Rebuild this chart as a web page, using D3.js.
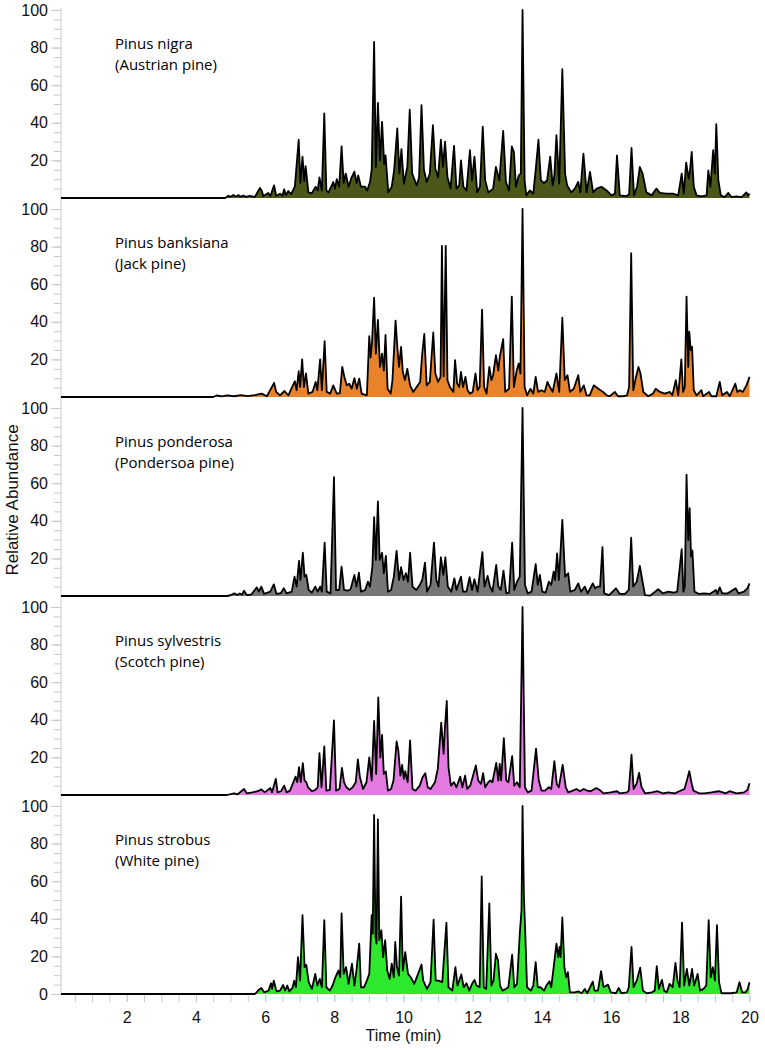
<!DOCTYPE html>
<html><head><meta charset="utf-8">
<script src="https://cdn.jsdelivr.net/npm/d3@7"></script>
<style>body{margin:0;background:#fff}svg{display:block}</style>
</head><body>
<svg id="chart" width="765" height="1050"></svg>
<script>
// [time (min), relative abundance]
const nigraTrace = [[0.1,0],[4.85,0],[4.94,1.2],[5.0,0.6],[5.08,1.6],[5.15,0.8],[5.23,1.5],[5.3,0.7],[5.37,1.3],[5.45,0.6],[5.56,1.2],[5.7,0.5],[5.85,5.3],[5.90,4],[5.95,1],[6.09,2.7],[6.15,1],[6.26,6.7],[6.32,1.2],[6.43,2.3],[6.5,1.2],[6.55,4.6],[6.6,1.5],[6.67,3.7],[6.75,2],[6.86,6.2],[6.97,31],[7.02,8],[7.08,22],[7.13,9],[7.17,17],[7.25,3],[7.35,2.5],[7.46,6],[7.52,4],[7.57,11],[7.64,4],[7.71,45],[7.77,4],[7.83,3],[7.97,8.5],[8.02,5],[8.07,10],[8.14,6],[8.21,27.5],[8.27,8],[8.33,13],[8.41,6],[8.50,11],[8.58,14],[8.64,8],[8.69,12],[8.77,6],[8.89,6],[8.95,4],[9.03,8.5],[9.08,15],[9.15,83],[9.20,16.5],[9.26,50.6],[9.32,20],[9.38,40.5],[9.44,18],[9.48,22.7],[9.56,3],[9.66,6],[9.73,15],[9.82,37],[9.88,13],[9.94,26],[10.01,7.6],[10.11,16.5],[10.18,47],[10.25,13],[10.38,6.7],[10.45,11],[10.52,49.4],[10.59,15],[10.67,8.5],[10.76,13],[10.85,38.7],[10.92,15.6],[11.00,11],[11.08,31],[11.14,16.5],[11.20,30],[11.27,11],[11.36,5],[11.46,27.7],[11.53,5],[11.61,6.7],[11.66,20],[11.73,6],[11.82,4],[11.92,25.4],[11.98,9.4],[12.05,22],[12.13,3],[12.21,6],[12.29,38],[12.36,9.4],[12.45,3],[12.59,5],[12.67,16.5],[12.77,9.4],[12.88,35.7],[12.96,8.5],[13.05,4],[13.13,27.5],[13.19,24.5],[13.25,6],[13.33,12],[13.39,13],[13.44,100],[13.50,9.4],[13.55,1.4],[13.65,4],[13.75,2.3],[13.82,15],[13.90,31],[13.97,9.4],[14.06,8],[14.15,9.4],[14.24,22],[14.31,6.7],[14.36,12],[14.42,33.4],[14.50,7.6],[14.59,68.6],[14.67,13],[14.73,6.7],[14.85,3],[14.95,5],[15.05,8.5],[15.11,3],[15.20,23.6],[15.29,3],[15.39,13.9],[15.48,3],[15.58,5],[15.72,6],[15.87,4],[16.01,1.4],[16.11,2.3],[16.17,22.7],[16.25,1.4],[16.44,1],[16.52,2],[16.59,26.6],[16.66,1.4],[16.75,6],[16.83,16.5],[16.91,13],[17.02,3],[17.17,1.4],[17.31,5],[17.41,2.7],[17.60,2.3],[17.79,2.3],[17.94,1.4],[18.04,13],[18.10,2.3],[18.17,18.8],[18.24,10.3],[18.28,14.7],[18.33,24.5],[18.39,6],[18.47,1.4],[18.61,0.9],[18.76,1.4],[18.81,14.7],[18.87,6],[18.95,25.4],[19.00,13],[19.04,39.3],[19.10,9.4],[19.17,1.4],[19.28,0.5],[19.39,2.7],[19.48,0.5],[19.62,0.9],[19.77,0.5],[19.91,3],[19.96,1.4],[20,2.3]];

const banksianaTrace = [[0.1,0],[4.5,0],[4.6,0.8],[4.75,0.3],[4.9,0.9],[5.1,0.4],[5.3,1],[5.5,0.5],[5.7,1],[5.90,1.8],[6.05,0.4],[6.26,7.5],[6.32,2.7],[6.43,0.9],[6.56,3.2],[6.67,0.9],[6.86,8.4],[6.91,3.6],[6.97,13.7],[7.01,5.3],[7.07,20],[7.12,5.3],[7.18,12.5],[7.25,1.8],[7.37,2.7],[7.46,8],[7.51,3.6],[7.59,20],[7.64,3.6],[7.72,29.7],[7.78,2.7],[7.88,1.8],[7.97,6.2],[8.07,1.8],[8.16,2.1],[8.23,16],[8.29,10.7],[8.36,6.2],[8.43,7.1],[8.50,4.4],[8.58,10],[8.65,4.4],[8.72,9.8],[8.79,1.8],[8.94,0.9],[9.01,32.4],[9.05,21],[9.09,29],[9.15,52.8],[9.20,23],[9.26,41],[9.32,16],[9.38,23],[9.43,14],[9.48,33],[9.54,4.4],[9.63,1.8],[9.68,9],[9.77,40.6],[9.82,26.7],[9.87,16],[9.93,26.7],[9.98,13.3],[10.04,9],[10.11,15],[10.19,6.2],[10.28,2.7],[10.38,5.3],[10.48,8],[10.54,23],[10.60,33.5],[10.67,6.2],[10.76,8],[10.86,34.3],[10.92,12.5],[11.00,8],[11.07,10.7],[11.11,80.4],[11.16,11],[11.22,80.4],[11.27,9],[11.34,5.3],[11.44,2.7],[11.49,19.6],[11.55,7.1],[11.61,5.3],[11.66,13.3],[11.72,5.3],[11.79,10.7],[11.85,3.6],[11.92,1.8],[12.00,2.7],[12.08,12.5],[12.14,3.6],[12.20,5.3],[12.27,46.5],[12.33,5.3],[12.40,1.8],[12.48,16],[12.54,9],[12.59,11.6],[12.67,22.2],[12.74,14],[12.78,21],[12.88,30.8],[12.94,2.7],[13.05,4.4],[13.13,53.4],[13.19,5.3],[13.27,14],[13.33,17.8],[13.38,12.5],[13.44,100],[13.50,5.3],[13.57,0.9],[13.67,4.4],[13.75,1.8],[13.82,10.7],[13.89,2.7],[13.99,3.6],[14.08,2.7],[14.16,8],[14.23,5.3],[14.31,2.7],[14.42,12.5],[14.50,2.7],[14.59,42.2],[14.66,9],[14.74,11.6],[14.81,2.7],[14.92,4.4],[15.05,11.6],[15.11,2.7],[15.21,6.2],[15.29,0.9],[15.38,0.9],[15.50,6.2],[15.63,4.4],[15.77,2.7],[15.87,0.9],[15.96,0.4],[16.11,2.7],[16.20,0.4],[16.35,0.4],[16.46,0.9],[16.52,5.3],[16.58,76.5],[16.64,3.6],[16.71,9.8],[16.79,16],[16.85,12.5],[16.93,2.7],[17.07,0.4],[17.21,1.8],[17.29,4.4],[17.41,2.7],[17.55,1.8],[17.70,2.7],[17.77,0.9],[17.87,9],[17.94,0.9],[18.03,20],[18.08,2.7],[18.13,5.3],[18.18,53.4],[18.23,16],[18.26,34.7],[18.30,25],[18.34,26.7],[18.39,3.6],[18.47,0.9],[18.61,3.6],[18.66,0.4],[18.83,2.7],[18.90,0.4],[19.04,0.4],[19.14,8],[19.21,0.9],[19.35,2.7],[19.43,0.4],[19.59,7.1],[19.65,2.7],[19.72,3.6],[19.81,2.7],[19.91,6.2],[19.95,8],[20,10.7]];

const ponderosaTrace = [[0.1,0],[4.9,0],[5.0,0.4],[5.11,1.4],[5.2,0.5],[5.27,1.4],[5.33,0.6],[5.39,2.8],[5.47,0.5],[5.6,0.8],[5.76,4.6],[5.82,2.3],[5.89,5],[5.97,1.1],[6.15,2.3],[6.25,6.2],[6.33,1.1],[6.45,1.5],[6.54,4.1],[6.62,1.4],[6.77,2.3],[6.85,10.3],[6.91,5],[6.98,18.7],[7.02,8.5],[7.09,23],[7.14,10.3],[7.19,11.2],[7.26,3.2],[7.35,1.8],[7.45,5],[7.52,2.3],[7.59,5],[7.64,2.3],[7.72,28.4],[7.78,2.3],[7.89,1.4],[7.99,63.2],[8.05,3.2],[8.14,3.2],[8.21,15.6],[8.28,3.2],[8.39,2.8],[8.47,3.6],[8.58,11.2],[8.64,5],[8.71,12.4],[8.77,2.3],[8.89,3.2],[8.97,7.6],[9.03,5],[9.10,15.6],[9.15,42],[9.20,19.2],[9.26,50.3],[9.31,19.2],[9.38,23],[9.43,12.1],[9.49,21.3],[9.55,2.3],[9.64,3.2],[9.72,10.3],[9.80,24],[9.87,8.5],[9.93,15.3],[10.00,8.5],[10.07,12.1],[10.13,7.6],[10.19,23],[10.26,5],[10.37,3.2],[10.47,5.9],[10.54,8.5],[10.62,17.8],[10.68,2.3],[10.78,5.9],[10.88,28.4],[10.95,8.5],[11.01,5],[11.08,20.6],[11.15,11.2],[11.21,20.6],[11.28,5],[11.38,2.3],[11.47,9.4],[11.53,3.2],[11.66,10.3],[11.72,2.3],[11.82,2.3],[11.91,10],[11.98,3.2],[12.05,8.9],[12.14,2.3],[12.28,23.3],[12.34,5],[12.43,10.7],[12.50,5],[12.57,2.3],[12.68,16.5],[12.74,5],[12.81,3.2],[12.89,13.5],[12.97,1.4],[13.05,1.8],[13.14,28.4],[13.20,3.2],[13.28,7.6],[13.36,10.3],[13.44,100],[13.51,5.9],[13.59,1.4],[13.70,2.3],[13.82,17],[13.88,5.9],[13.94,11.2],[14.01,2.3],[14.11,1.8],[14.20,7.6],[14.27,5.9],[14.34,13],[14.38,8.5],[14.44,22.6],[14.49,8.5],[14.59,40.5],[14.67,10.3],[14.76,12.1],[14.82,2.3],[14.95,3.2],[15.05,6.7],[15.13,2.3],[15.24,5],[15.32,1.4],[15.47,6.7],[15.54,4.1],[15.61,5],[15.68,5],[15.75,26],[15.80,1.4],[15.94,0.5],[16.14,4.1],[16.25,1.1],[16.40,1.1],[16.51,3.2],[16.58,31],[16.64,5],[16.74,7.6],[16.83,16],[16.90,8.5],[16.98,0.5],[17.13,0.2],[17.36,3.6],[17.50,1.4],[17.65,2.3],[17.81,1.8],[17.91,2.3],[18.04,24.9],[18.09,2.3],[18.13,5],[18.18,64.5],[18.23,29.8],[18.27,46.7],[18.31,21],[18.35,24.2],[18.41,2.3],[18.54,1.1],[18.69,1.4],[18.85,1.1],[19.03,3.2],[19.07,1.1],[19.14,4.6],[19.21,1.4],[19.37,1.4],[19.60,4.1],[19.68,1.4],[19.84,2.3],[19.94,4.1],[20,6.7]];

const sylvestrisTrace = [[0.1,0],[4.9,0],[5.1,0.9],[5.2,0.3],[5.39,3.2],[5.47,0.9],[5.63,1.4],[5.79,2],[5.89,3],[5.99,1.4],[6.15,3.7],[6.20,1.4],[6.31,8.6],[6.36,1.4],[6.46,2],[6.55,5],[6.62,1.4],[6.72,2.3],[6.88,9.8],[6.93,6.8],[6.98,14.8],[7.03,6.8],[7.09,17],[7.14,7.7],[7.19,6.8],[7.24,4.1],[7.35,2],[7.45,2.7],[7.52,4.1],[7.57,22.3],[7.63,4.1],[7.71,25.8],[7.77,2.3],[7.87,2.7],[7.99,39.7],[8.05,2.3],[8.15,3.2],[8.22,14.4],[8.28,6.8],[8.35,4.1],[8.44,2.7],[8.53,4.1],[8.62,6.8],[8.68,19],[8.74,9.4],[8.83,3.2],[8.93,6.8],[9.01,20],[9.08,7.7],[9.15,39.4],[9.21,11.2],[9.27,51.9],[9.33,20],[9.38,32],[9.43,11.2],[9.49,12.5],[9.55,2.3],[9.64,3.2],[9.71,7.7],[9.80,28.5],[9.85,23.7],[9.91,10.3],[9.96,16],[10.01,8.6],[10.05,12.7],[10.12,6.8],[10.19,29],[10.26,3.2],[10.35,2.3],[10.47,5],[10.55,9.4],[10.63,11.6],[10.70,4.1],[10.78,3.2],[10.91,6.8],[10.99,13.9],[11.09,38.5],[11.16,21.9],[11.20,37],[11.25,50],[11.30,14.8],[11.37,5],[11.46,6.8],[11.53,4.1],[11.64,9.8],[11.70,4.1],[11.78,10.3],[11.84,3.2],[11.93,5],[12.09,15.7],[12.16,7.7],[12.24,5.9],[12.30,11.6],[12.36,4.1],[12.45,6.8],[12.51,7.7],[12.57,6.8],[12.68,17.1],[12.74,7.7],[12.78,16.6],[12.82,7.7],[12.90,30.3],[12.97,7.7],[13.03,6.8],[13.14,20.7],[13.20,5],[13.28,6.8],[13.36,4.1],[13.44,100],[13.51,4.1],[13.59,1.4],[13.70,2.3],[13.83,24.6],[13.91,7.7],[13.99,2.3],[14.09,2.3],[14.20,4.1],[14.27,3.2],[14.36,18],[14.43,5.9],[14.49,4.1],[14.60,16],[14.69,4.1],[14.76,1.4],[14.89,2.3],[15.00,3.2],[15.10,2],[15.21,3.2],[15.31,2.3],[15.41,2],[15.57,3.7],[15.67,2.7],[15.78,0.9],[15.99,1.4],[16.17,2],[16.25,0.9],[16.46,1.4],[16.51,2.3],[16.59,21.4],[16.65,3.2],[16.74,6.2],[16.81,11.8],[16.88,4.1],[16.98,0.9],[17.18,1.4],[17.34,2],[17.50,0.9],[17.65,1.4],[17.84,0.9],[17.97,2],[18.12,3.2],[18.19,7.7],[18.26,12.7],[18.32,6.8],[18.38,2.3],[18.54,0.9],[18.69,0.9],[18.90,1.4],[19.11,2],[19.32,0.9],[19.42,2],[19.63,0.9],[19.84,1.4],[19.94,2.7],[20,6.2]];

const strobusTrace = [[0.1,0],[5.70,0],[5.73,0.4],[5.81,2.1],[5.89,3.2],[5.97,0.9],[6.10,1.8],[6.17,5.7],[6.20,2.7],[6.25,7.1],[6.33,1.4],[6.43,1.8],[6.52,4.8],[6.58,1.8],[6.64,4.5],[6.70,1.4],[6.79,3.2],[6.84,7.1],[6.89,3.6],[6.95,19.6],[7.01,7.1],[7.08,42],[7.14,14.3],[7.19,15.5],[7.26,6.3],[7.35,2.7],[7.45,10.7],[7.51,4.5],[7.58,8],[7.64,3.6],[7.71,39.3],[7.77,3.6],[7.87,1.8],[7.95,4.5],[8.03,8.9],[8.12,12.5],[8.17,8.9],[8.21,42.9],[8.27,10.7],[8.34,14.3],[8.41,5.4],[8.51,16.1],[8.58,4.5],[8.64,12.5],[8.72,26.8],[8.77,3.6],[8.86,3.6],[8.94,7.1],[9.01,10.7],[9.08,42],[9.11,32.1],[9.15,95.2],[9.19,30.4],[9.22,26.8],[9.26,92.9],[9.30,28.6],[9.36,33.9],[9.41,19.6],[9.47,28.6],[9.53,12.5],[9.60,8],[9.66,16.1],[9.72,8.9],[9.76,27.7],[9.81,14.3],[9.87,9.8],[9.93,51.8],[9.98,12.5],[10.05,22.3],[10.13,10.7],[10.21,8.9],[10.31,5.4],[10.42,10.7],[10.52,15.7],[10.57,7.1],[10.68,2.7],[10.78,6.3],[10.87,39.6],[10.93,7.1],[11.01,7.1],[11.12,6.3],[11.24,37.9],[11.30,3.6],[11.41,1.8],[11.50,14.3],[11.56,4.5],[11.67,10.4],[11.74,3.6],[11.82,5.7],[11.90,1.8],[11.98,5.4],[12.05,7.5],[12.11,4.5],[12.20,3.6],[12.26,62.5],[12.32,3.6],[12.39,2.7],[12.48,48.2],[12.54,4.5],[12.60,7.1],[12.67,21.4],[12.73,17.9],[12.79,4.5],[12.86,1.8],[12.95,2.7],[13.03,3.6],[13.14,20.9],[13.20,3.6],[13.28,5.4],[13.36,32.1],[13.41,44.6],[13.44,100],[13.48,51.8],[13.52,32.1],[13.57,3.6],[13.68,1.8],[13.75,4.5],[13.82,17],[13.88,3.6],[13.96,3.6],[14.06,1.8],[14.13,4.5],[14.22,6.8],[14.27,3.6],[14.34,14.3],[14.42,26.8],[14.47,19.6],[14.51,25],[14.54,19.6],[14.59,40.7],[14.65,14.3],[14.70,8.9],[14.75,11.6],[14.81,0.9],[14.95,0.9],[15.05,1.4],[15.15,0.4],[15.24,2.7],[15.31,0.4],[15.47,6.6],[15.52,1.8],[15.62,1.8],[15.71,12.1],[15.78,3.6],[15.91,5],[15.99,0.9],[16.14,0.4],[16.22,3.2],[16.30,0.4],[16.46,0.9],[16.51,3.6],[16.59,25],[16.65,3.6],[16.74,7.1],[16.84,14],[16.92,1.8],[17.03,0.4],[17.18,0.9],[17.26,1.8],[17.32,14.8],[17.38,2.7],[17.47,7.5],[17.53,1.8],[17.61,0.9],[17.69,5.4],[17.78,3.6],[17.86,16.6],[17.92,7.1],[17.98,3.6],[18.05,38],[18.11,4.5],[18.19,13.4],[18.26,4.5],[18.34,13.4],[18.40,4.5],[18.50,10.7],[18.57,1.8],[18.67,2.7],[18.75,4.5],[18.82,39.3],[18.88,8.9],[18.94,14.3],[19.00,7.1],[19.06,36.6],[19.12,6.3],[19.19,0.4],[19.32,0.4],[19.47,0.4],[19.63,0.9],[19.71,6.3],[19.79,0.9],[19.89,0.9],[19.95,2.7],[20,6.3]];

const speciesNames = ["Pinus nigra", "Pinus banksiana", "Pinus ponderosa", "Pinus sylvestris", "Pinus strobus"];
const commonNames = ["(Austrian pine)", "(Jack pine)", "(Pondersoa pine)", "(Scotch pine)", "(White pine)"];
const fillColors = ["#4a5719", "#e8832c", "#777575", "#e27ae0", "#2ee82e"];
const yTickValues = [20, 40, 60, 80, 100];
const yTickValuesLast = [0, 20, 40, 60, 80, 100];
const xTickValues = [2, 4, 6, 8, 10, 12, 14, 16, 18, 20];
const xTitle = "Time (min)";
const yTitle = "Relative Abundance";

const traces = [nigraTrace, banksianaTrace, ponderosaTrace, sylvestrisTrace, strobusTrace];

const svg = d3.select("#chart");
const left = 61, right = 749.5;
const x = d3.scaleLinear().domain([0.1, 20]).range([left, right]);
const panelBase = [198, 397, 596, 795, 994];
const panelH = 188;
const tickFont = "'Liberation Sans', Arial, sans-serif";
const gray = "#c9c9c9";

svg.append("line").attr("x1", left).attr("x2", left)
  .attr("y1", panelBase[0] - panelH - 2).attr("y2", panelBase[4])
  .attr("stroke", gray).attr("stroke-width", 1);

traces.forEach((trace, i) => {
  const base = panelBase[i];
  const y = d3.scaleLinear().domain([0, 100]).range([base, base - panelH]);
  const g = svg.append("g");

  const minor = d3.range(5, 101, 5);
  const gMinor = g.append("g").attr("transform", `translate(${left},0)`)
    .call(d3.axisLeft(y).tickValues(minor).tickSize(7).tickFormat(""));
  gMinor.select(".domain").remove();
  gMinor.selectAll("line").attr("stroke", gray);

  const gMajor = g.append("g").attr("transform", `translate(${left},0)`)
    .call(d3.axisLeft(y).tickValues(i === 4 ? yTickValuesLast : yTickValues).tickSize(10).tickPadding(3));
  gMajor.select(".domain").remove();
  gMajor.selectAll("line").attr("stroke", gray);
  gMajor.selectAll("text").attr("font-family", tickFont).attr("font-size", 16).attr("fill", "#111");

  const area = d3.area().x(d => x(d[0])).y0(y(0)).y1(d => y(d[1]));
  const line = d3.line().x(d => x(d[0])).y(d => y(d[1]));

  g.append("path").datum(trace).attr("d", area).attr("fill", fillColors[i]);
  g.append("path").datum(trace).attr("d", line).attr("fill", "none")
    .attr("stroke", "#000").attr("stroke-width", 1.8).attr("stroke-linejoin", "round");

  const top = base - panelH;
  g.append("text").attr("x", 115).attr("y", top + 38.5)
    .attr("font-family", "'Open Sans', 'Noto Sans', sans-serif").attr("font-size", 15).attr("fill", "#000")
    .text(speciesNames[i]);
  g.append("text").attr("x", 115).attr("y", top + 60)
    .attr("font-family", "'Open Sans', 'Noto Sans', sans-serif").attr("font-size", 15).attr("fill", "#000")
    .text(commonNames[i]);
});

const gxMinor = svg.append("g").attr("transform", `translate(0,${panelBase[4] + 1})`)
  .call(d3.axisBottom(x).tickValues(d3.range(0.5, 20.01, 0.5)).tickSize(7).tickFormat(""));
gxMinor.select(".domain").remove();
gxMinor.selectAll("line").attr("stroke", gray);

const gx = svg.append("g").attr("transform", `translate(0,${panelBase[4] + 1})`)
  .call(d3.axisBottom(x).tickValues(xTickValues).tickSize(7).tickPadding(10));
gx.select(".domain").remove();
gx.selectAll("line").attr("stroke", gray);
gx.selectAll("text").attr("font-family", tickFont).attr("font-size", 16).attr("fill", "#111");

svg.append("text").attr("x", x(10)).attr("y", 1041).attr("text-anchor", "middle")
  .attr("font-family", tickFont).attr("font-size", 16).attr("fill", "#111").text(xTitle);

svg.append("text").attr("transform", "translate(18,500) rotate(-90)").attr("text-anchor", "middle")
  .attr("font-family", tickFont).attr("font-size", 17).attr("fill", "#111").text(yTitle);
</script>
</body></html>
